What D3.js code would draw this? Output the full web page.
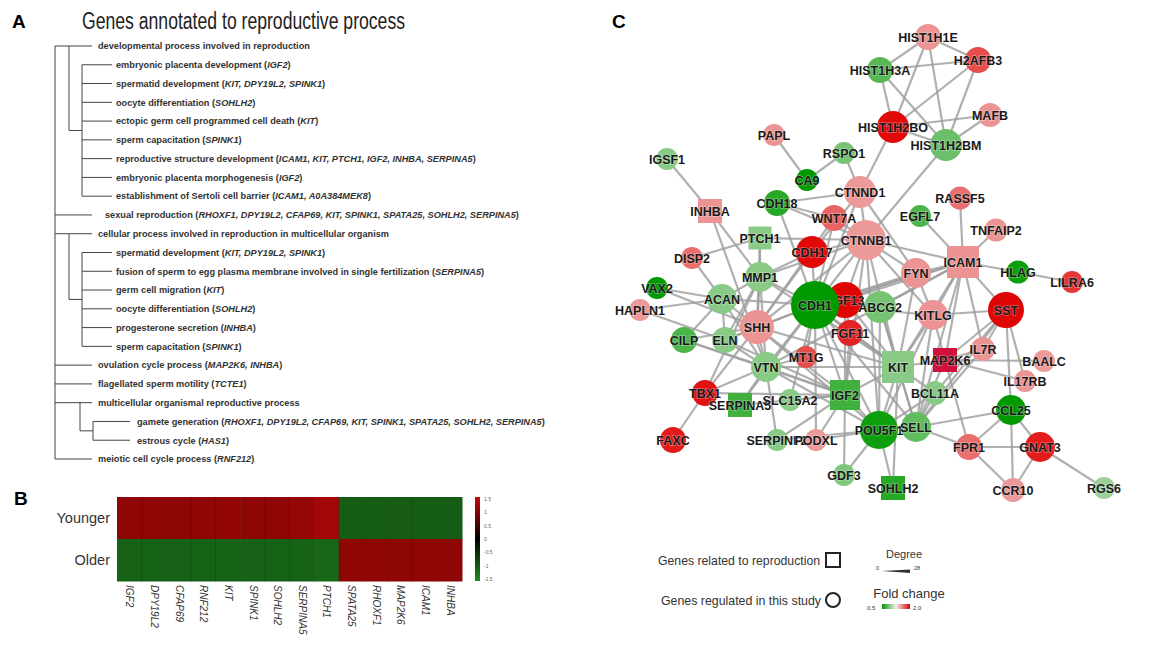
<!DOCTYPE html>
<html>
<head>
<meta charset="utf-8">
<script src="https://cdn.jsdelivr.net/npm/d3@7"></script>
<style>
  body { margin: 0; background: #fff; }
  svg { display: block; font-family: "Liberation Sans", Arial, sans-serif; }
</style>
</head>
<body>
<div id="fig"></div>
<script>
// ---------- panel A: GO terms ----------
const goTerms = [
  "developmental process involved in reproduction",
  "embryonic placenta development",
  "spermatid development",
  "oocyte differentiation",
  "ectopic germ cell programmed cell death",
  "sperm capacitation",
  "reproductive structure development",
  "embryonic placenta morphogenesis",
  "establishment of Sertoli cell barrier",
  "sexual reproduction",
  "cellular process involved in reproduction in multicellular organism",
  "spermatid development",
  "fusion of sperm to egg plasma membrane involved in single fertilization",
  "germ cell migration",
  "oocyte differentiation",
  "progesterone secretion",
  "sperm capacitation",
  "ovulation cycle process",
  "flagellated sperm motility",
  "multicellular organismal reproductive process",
  "gamete generation",
  "estrous cycle",
  "meiotic cell cycle process"
]
const goGenes = [
  "", "IGF2", "KIT, DPY19L2, SPINK1", "SOHLH2", "KIT", "SPINK1",
  "ICAM1, KIT, PTCH1, IGF2, INHBA, SERPINA5", "IGF2", "ICAM1, A0A384MEK8",
  "RHOXF1, DPY19L2, CFAP69, KIT, SPINK1, SPATA25, SOHLH2, SERPINA5",
  "", "KIT, DPY19L2, SPINK1", "SERPINA5", "KIT", "SOHLH2", "INHBA", "SPINK1",
  "MAP2K6, INHBA", "TCTE1", "",
  "RHOXF1, DPY19L2, CFAP69, KIT, SPINK1, SPATA25, SOHLH2, SERPINA5",
  "HAS1", "RNF212"
]
const goDepth = [1, 2, 2, 2, 2, 2, 2, 2, 2, 1, 1, 2, 2, 2, 2, 2, 2, 1, 1, 1, 3, 3, 1]

// ---------- panel B: heatmap ----------
const heatGenes = ["IGF2", "DPY19L2", "CFAP69", "RNF212", "KIT", "SPINK1", "SOHLH2",
  "SERPINA5", "PTCH1", "SPATA25", "RHOXF1", "MAP2K6", "ICAM1", "INHBA"]
const heatGroups = ["Younger", "Older"]
const youngerZ = [1.05, 1.05, 1.05, 1.05, 1.08, 1.05, 1.05, 1.1, 1.2, -1.0, -1.0, -1.0, -1.0, -1.0]
const olderZ = [-1.05, -1.05, -1.05, -1.05, -1.05, -1.05, -1.05, -1.05, -1.1, 1.05, 1.05, 1.05, 1.05, 1.05]
const zTicks = [1.5, 1, 0.5, 0, -0.5, -1, -1.5]

// ---------- panel C: network ----------
// [gene, layout x, layout y, fold change, degree, shape (c = regulated, s = reproduction)]
const netNodes = [
  ["HIST1H1E", 328, 37, 1.3, 6, "c"],
  ["H2AFB3", 378, 60, 1.6, 6, "c"],
  ["HIST1H3A", 280, 70, 0.64, 6, "c"],
  ["MAFB", 390, 115, 1.3, 4, "c"],
  ["HIST1H2BO", 293, 127, 1.95, 12, "c"],
  ["HIST1H2BM", 346, 145, 0.68, 12, "c"],
  ["PAPL", 174, 135, 1.3, 2, "c"],
  ["RSPO1", 244, 153, 0.7, 2, "c"],
  ["IGSF1", 67, 159, 0.74, 2, "c"],
  ["CA9", 207, 180, 0.5, 2, "c"],
  ["CTNND1", 260, 192, 1.28, 12, "c"],
  ["RASSF5", 360, 198, 1.45, 3, "c"],
  ["CDH18", 177, 203, 0.56, 6, "c"],
  ["INHBA", 110, 211, 1.3, 4, "s"],
  ["WNT7A", 234, 218, 1.5, 6, "c"],
  ["EGFL7", 320, 216, 0.62, 2, "c"],
  ["TNFAIP2", 396, 230, 1.3, 3, "c"],
  ["PTCH1", 160, 238, 0.74, 3, "s"],
  ["CTNNB1", 266, 240, 1.28, 20, "c"],
  ["CDH17", 212, 252, 1.95, 12, "c"],
  ["ICAM1", 363, 262, 1.3, 12, "s"],
  ["DISP2", 92, 258, 1.45, 2, "c"],
  ["FYN", 316, 273, 1.3, 10, "c"],
  ["HLAG", 418, 272, 0.52, 3, "c"],
  ["LILRA6", 472, 282, 1.7, 2, "c"],
  ["MMP1", 160, 277, 0.74, 10, "c"],
  ["VAX2", 57, 288, 0.5, 2, "c"],
  ["FGF13", 245, 300, 1.97, 16, "c"],
  ["ABCG2", 280, 307, 0.7, 12, "c"],
  ["CDH1", 215, 305, 0.5, 28, "c"],
  ["SST", 406, 310, 1.97, 16, "c"],
  ["ACAN", 122, 299, 0.74, 10, "c"],
  ["HAPLN1", 40, 310, 1.28, 2, "c"],
  ["KITLG", 333, 315, 1.3, 10, "c"],
  ["SHH", 157, 327, 1.3, 14, "c"],
  ["FGF11", 250, 333, 1.8, 6, "c"],
  ["MT1G", 206, 357, 1.6, 2, "c"],
  ["MAP2K6", 345, 360, 2.0, 4, "s"],
  ["IL7R", 383, 349, 1.3, 4, "c"],
  ["BAALC", 444, 361, 1.28, 2, "c"],
  ["IL17RB", 425, 381, 1.3, 2, "c"],
  ["CILP", 84, 340, 0.62, 6, "c"],
  ["ELN", 125, 340, 0.74, 6, "c"],
  ["KIT", 298, 367, 0.74, 12, "s"],
  ["VTN", 166, 367, 0.74, 10, "c"],
  ["IGF2", 245, 395, 0.6, 10, "s"],
  ["TBX1", 105, 393, 1.9, 6, "c"],
  ["SERPINA5", 140, 405, 0.6, 4, "s"],
  ["SLC15A2", 190, 400, 0.74, 2, "c"],
  ["BCL11A", 335, 393, 0.74, 4, "c"],
  ["CCL25", 411, 410, 0.5, 10, "c"],
  ["POU5F1", 279, 430, 0.52, 18, "c"],
  ["SELL", 316, 427, 0.66, 10, "c"],
  ["SERPINF2", 177, 440, 0.74, 2, "c"],
  ["PODXL", 216, 440, 1.28, 2, "c"],
  ["FAXC", 73, 440, 1.85, 6, "c"],
  ["FPR1", 369, 447, 1.45, 6, "c"],
  ["GNAT3", 440, 447, 1.85, 10, "c"],
  ["GDF3", 244, 475, 0.72, 2, "c"],
  ["SOHLH2", 293, 488, 0.56, 4, "s"],
  ["CCR10", 413, 490, 1.28, 4, "c"],
  ["RGS6", 504, 488, 0.78, 2, "c"]
]
const netEdges = [
  ["HIST1H1E", "HIST1H3A"], ["HIST1H1E", "H2AFB3"], ["HIST1H1E", "HIST1H2BO"], ["HIST1H1E", "HIST1H2BM"],
  ["HIST1H3A", "H2AFB3"], ["HIST1H3A", "HIST1H2BO"], ["HIST1H3A", "HIST1H2BM"], ["H2AFB3", "HIST1H2BO"],
  ["H2AFB3", "HIST1H2BM"], ["MAFB", "HIST1H2BO"], ["MAFB", "HIST1H2BM"], ["HIST1H2BO", "HIST1H2BM"],
  ["HIST1H2BO", "CTNND1"], ["HIST1H2BM", "CTNNB1"], ["PAPL", "CA9"], ["RSPO1", "CA9"], ["RSPO1", "CTNND1"],
  ["IGSF1", "INHBA"], ["CDH18", "CTNND1"], ["CTNND1", "CTNNB1"], ["CTNND1", "CDH1"], ["CTNND1", "CDH17"],
  ["CTNND1", "FYN"], ["CDH18", "CDH1"], ["CDH18", "CTNNB1"], ["CDH18", "WNT7A"], ["INHBA", "MMP1"],
  ["INHBA", "VTN"], ["WNT7A", "CTNNB1"], ["WNT7A", "CDH1"], ["WNT7A", "SHH"], ["EGFL7", "ICAM1"],
  ["RASSF5", "ICAM1"], ["TNFAIP2", "ICAM1"], ["PTCH1", "SHH"], ["PTCH1", "DISP2"], ["PTCH1", "CTNNB1"],
  ["PTCH1", "MMP1"], ["CTNNB1", "CDH1"], ["CTNNB1", "CDH17"], ["CTNNB1", "FYN"], ["CTNNB1", "FGF13"],
  ["CTNNB1", "KIT"], ["CTNNB1", "SHH"], ["CTNNB1", "POU5F1"], ["CTNNB1", "IGF2"], ["CTNNB1", "MMP1"],
  ["CTNNB1", "ICAM1"], ["CTNNB1", "KITLG"], ["CDH17", "CDH1"], ["CDH17", "MMP1"], ["CDH17", "SHH"],
  ["ICAM1", "FYN"], ["ICAM1", "HLAG"], ["ICAM1", "SST"], ["ICAM1", "KITLG"], ["ICAM1", "KIT"],
  ["ICAM1", "MAP2K6"], ["ICAM1", "IL7R"], ["ICAM1", "ABCG2"], ["ICAM1", "SELL"], ["ICAM1", "CDH1"],
  ["ICAM1", "FGF13"], ["ICAM1", "VTN"], ["HLAG", "LILRA6"], ["DISP2", "ACAN"], ["FYN", "KIT"],
  ["FYN", "CDH1"], ["FYN", "KITLG"], ["FYN", "FGF13"], ["MMP1", "ACAN"], ["MMP1", "CDH1"], ["MMP1", "VTN"],
  ["MMP1", "ELN"], ["MMP1", "SHH"], ["MMP1", "KIT"], ["MMP1", "TBX1"], ["VAX2", "ACAN"], ["VAX2", "SHH"],
  ["FGF13", "CDH1"], ["FGF13", "KIT"], ["FGF13", "FGF11"], ["FGF13", "IGF2"], ["ABCG2", "KIT"],
  ["ABCG2", "CDH1"], ["ABCG2", "POU5F1"], ["ABCG2", "SELL"], ["CDH1", "SHH"], ["CDH1", "KIT"],
  ["CDH1", "IGF2"], ["CDH1", "POU5F1"], ["CDH1", "VTN"], ["CDH1", "MT1G"], ["CDH1", "FGF11"],
  ["CDH1", "ACAN"], ["CDH1", "ELN"], ["CDH1", "SLC15A2"], ["CDH1", "SERPINA5"], ["CDH1", "PODXL"],
  ["CDH1", "KITLG"], ["CDH1", "SELL"], ["SST", "KITLG"], ["SST", "IL7R"], ["SST", "MAP2K6"],
  ["SST", "IL17RB"], ["SST", "CCL25"], ["SST", "SELL"], ["SST", "BCL11A"], ["ACAN", "HAPLN1"],
  ["ACAN", "CILP"], ["ACAN", "ELN"], ["ACAN", "SHH"], ["ACAN", "VTN"], ["HAPLN1", "ELN"],
  ["KITLG", "KIT"], ["KITLG", "MAP2K6"], ["KITLG", "POU5F1"], ["KITLG", "SELL"], ["SHH", "VTN"],
  ["SHH", "IGF2"], ["SHH", "POU5F1"], ["SHH", "TBX1"], ["SHH", "KIT"], ["SHH", "ELN"], ["SHH", "CILP"],
  ["FGF11", "KIT"], ["FGF11", "IGF2"], ["MT1G", "VTN"], ["MAP2K6", "KIT"], ["MAP2K6", "IL7R"],
  ["MAP2K6", "FPR1"], ["MAP2K6", "SELL"], ["MAP2K6", "BAALC"], ["MAP2K6", "IL17RB"], ["IL7R", "SELL"],
  ["CILP", "VTN"], ["CILP", "IGF2"], ["ELN", "VTN"], ["ELN", "IGF2"], ["KIT", "IGF2"], ["KIT", "POU5F1"],
  ["KIT", "SELL"], ["KIT", "BCL11A"], ["KIT", "SOHLH2"], ["KIT", "VTN"], ["VTN", "IGF2"],
  ["VTN", "SERPINA5"], ["VTN", "SERPINF2"], ["VTN", "TBX1"], ["VTN", "POU5F1"], ["IGF2", "POU5F1"],
  ["IGF2", "SLC15A2"], ["IGF2", "PODXL"], ["IGF2", "SERPINF2"], ["IGF2", "SERPINA5"], ["IGF2", "TBX1"],
  ["TBX1", "FAXC"], ["BCL11A", "POU5F1"], ["BCL11A", "SELL"], ["CCL25", "SELL"], ["CCL25", "FPR1"],
  ["CCL25", "GNAT3"], ["CCL25", "CCR10"], ["POU5F1", "SELL"], ["POU5F1", "GDF3"], ["POU5F1", "SOHLH2"],
  ["POU5F1", "PODXL"], ["POU5F1", "SERPINF2"], ["SELL", "FPR1"], ["FPR1", "GNAT3"], ["FPR1", "CCR10"],
  ["GNAT3", "CCR10"], ["GNAT3", "RGS6"], ["GDF3", "IGF2"]
]

const W = 1149, H = 648
const svg = d3.select("#fig").append("svg").attr("width", W).attr("height", H)

// panel letters
svg.selectAll("text.panel")
  .data([["A", 12, 28], ["B", 14, 505], ["C", 612, 28]])
  .enter().append("text")
  .attr("x", d => d[1]).attr("y", d => d[2])
  .attr("font-size", 19).attr("font-weight", "bold")
  .text(d => d[0])

// ================= A =================
const gA = svg.append("g")
gA.append("text")
  .attr("x", 82).attr("y", 29)
  .attr("font-size", 23)
  .attr("font-family", "'Liberation Sans Narrow', 'Liberation Sans', Arial, sans-serif")
  .attr("textLength", 323).attr("lengthAdjust", "spacingAndGlyphs")
  .attr("fill", "#222")
  .text("Genes annotated to reproductive process")

const rowY = d3.scaleLinear().domain([0, goTerms.length - 1]).range([46, 459])
const rootX = 55
const lvl = {
  1: { x0: rootX, x1: 92, tx: 98 },
  2: { x0: 82, x1: 112, tx: 116, elbow: 69 },
  3: { x0: 93, x1: 130, tx: 137, elbow: 80 }
}
const lineColor = "#444"

gA.append("line")
  .attr("x1", rootX).attr("x2", rootX)
  .attr("y1", rowY(0)).attr("y2", rowY(goTerms.length - 1))
  .attr("stroke", lineColor).attr("stroke-width", 1)

// find child groups
const groups = []
goDepth.forEach((d, i) => {
  if (d > 1 && (i === 0 || goDepth[i - 1] !== d)) {
    let p = i - 1
    while (p >= 0 && goDepth[p] >= d) p--
    let j = i
    while (j + 1 < goDepth.length && goDepth[j + 1] === d) j++
    groups.push({ parent: p, first: i, last: j, depth: d })
  }
})
groups.forEach(g => {
  const L = lvl[g.depth]
  const mid = (rowY(g.first) + rowY(g.last)) / 2
  gA.append("path")
    .attr("d", `M${L.elbow},${rowY(g.parent)}V${mid}H${L.x0}`)
    .attr("fill", "none").attr("stroke", lineColor).attr("stroke-width", 1)
  gA.append("line")
    .attr("x1", L.x0).attr("x2", L.x0)
    .attr("y1", rowY(g.first)).attr("y2", rowY(g.last))
    .attr("stroke", lineColor).attr("stroke-width", 1)
})

goTerms.forEach((t, i) => {
  const L = lvl[goDepth[i]]
  gA.append("line")
    .attr("x1", L.x0).attr("x2", L.x1)
    .attr("y1", rowY(i)).attr("y2", rowY(i))
    .attr("stroke", lineColor).attr("stroke-width", 1)
  const tx = gA.append("text")
    .attr("x", t === "sexual reproduction" ? L.tx + 7 : L.tx)
    .attr("y", rowY(i) + 3.3)
    .attr("font-size", 9.2).attr("font-weight", "bold")
    .attr("fill", "#333")
  tx.append("tspan").text(t + (goGenes[i] ? " (" : ""))
  if (goGenes[i]) {
    tx.append("tspan").attr("font-style", "italic").text(goGenes[i])
    tx.append("tspan").text(")")
  }
})

// ================= B =================
const gB = svg.append("g")
const hx = d3.scaleBand().domain(heatGenes).range([117, 462])
const hy = d3.scaleBand().domain(heatGroups).range([497, 581])
const zColor = d3.scaleLinear().domain([-1.5, 0, 1.5]).range(["#1f8c1f", "#000000", "#cc0808"])
const heatRows = [youngerZ, olderZ]

heatRows.forEach((vals, r) => {
  gB.selectAll(null).data(vals).enter().append("rect")
    .attr("x", (d, i) => hx(heatGenes[i]))
    .attr("y", hy(heatGroups[r]))
    .attr("width", hx.bandwidth() + 0.5)
    .attr("height", hy.bandwidth() + 0.5)
    .attr("fill", d => zColor(d))
})
// faint column separators
gB.selectAll("line.sep").data(heatGenes.slice(1)).enter().append("line")
  .attr("x1", d => hx(d)).attr("x2", d => hx(d))
  .attr("y1", 497).attr("y2", 581)
  .attr("stroke", "#000").attr("stroke-opacity", 0.12)

gB.selectAll("text.row").data(heatGroups).enter().append("text")
  .attr("x", 110).attr("y", d => hy(d) + hy.bandwidth() / 2 + 5)
  .attr("text-anchor", "end").attr("font-size", 14.5)
  .attr("fill", "#333")
  .attr("font-family", "'Liberation Sans Narrow', 'Liberation Sans', Arial, sans-serif")
  .text(d => d)

gB.selectAll("text.col").data(heatGenes).enter().append("text")
  .attr("transform", d => `translate(${hx(d) + hx.bandwidth() / 2 - 3},585) rotate(90)`)
  .attr("font-size", 10).attr("font-style", "italic")
  .attr("fill", "#333")
  .text(d => d)

// colour key
const defs = svg.append("defs")
const zg = defs.append("linearGradient").attr("id", "zgrad")
  .attr("x1", 0).attr("x2", 0).attr("y1", 0).attr("y2", 1)
zg.selectAll("stop").data([1.5, 0, -1.5]).enter().append("stop")
  .attr("offset", (d, i) => i / 2).attr("stop-color", d => zColor(d))
gB.append("rect").attr("x", 475).attr("y", 497).attr("width", 5).attr("height", 84)
  .attr("fill", "url(#zgrad)")
const zy = d3.scaleLinear().domain([1.5, -1.5]).range([499, 579])
gB.selectAll("text.zt").data(zTicks).enter().append("text")
  .attr("x", 484).attr("y", d => zy(d) + 2)
  .attr("font-size", 5).attr("fill", "#666")
  .text(d => d)

// ================= C =================
const gC = svg.append("g")
const nx = d3.scaleLinear().domain([0, 549]).range([600, 1149])
const ny = d3.scaleLinear().domain([0, 648]).range([0, 648])
const rScale = d3.scaleLinear().domain([0, 28]).range([10, 24])
const fcColor = d3.scaleLinear().domain([-1, 0, 1])
  .range(["#009a00", "#f3eeee", "#e00000"]).clamp(true)
const nodeById = new Map(netNodes.map(n => [n[0], n]))

gC.append("g").selectAll("line").data(netEdges).enter().append("line")
  .attr("x1", d => nx(nodeById.get(d[0])[1]))
  .attr("y1", d => ny(nodeById.get(d[0])[2]))
  .attr("x2", d => nx(nodeById.get(d[1])[1]))
  .attr("y2", d => ny(nodeById.get(d[1])[2]))
  .attr("stroke", "#9c9c9c").attr("stroke-opacity", 0.8)
  .attr("stroke-width", 2.2)

const nodeG = gC.append("g").selectAll("g").data(netNodes).enter().append("g")
  .attr("transform", d => `translate(${nx(d[1])},${ny(d[2])})`)

nodeG.filter(d => d[5] === "c").append("circle")
  .attr("r", d => rScale(d[4]))
  .attr("fill", d => fcColor(Math.log2(d[3])))
nodeG.filter(d => d[5] === "s").append("rect")
  .attr("x", d => -rScale(d[4])).attr("y", d => -rScale(d[4]))
  .attr("width", d => 2 * rScale(d[4])).attr("height", d => 2 * rScale(d[4]))
  .attr("fill", d => d[0] === "MAP2K6" ? "#d0103a" : fcColor(Math.log2(d[3])))

nodeG.append("text")
  .attr("text-anchor", "middle").attr("dy", "0.36em")
  .attr("font-size", 12.5).attr("font-weight", "bold")
  .attr("fill", "#1a1a1a")
  .attr("stroke", "#fff").attr("stroke-width", 1.5).attr("stroke-opacity", 0.35)
  .attr("paint-order", "stroke")
  .text(d => d[0])

// legend
const lg = svg.append("g").attr("fill", "#333")
  .attr("font-family", "'Liberation Sans Narrow', 'Liberation Sans', Arial, sans-serif")
lg.append("text").attr("x", 820).attr("y", 565).attr("text-anchor", "end")
  .attr("font-size", 13).attr("textLength", 162).attr("lengthAdjust", "spacingAndGlyphs")
  .text("Genes related to reproduction")
lg.append("rect").attr("x", 826).attr("y", 553).attr("width", 14).attr("height", 14)
  .attr("fill", "none").attr("stroke", "#222").attr("stroke-width", 2)
lg.append("text").attr("x", 821).attr("y", 605).attr("text-anchor", "end")
  .attr("font-size", 13).attr("textLength", 160).attr("lengthAdjust", "spacingAndGlyphs")
  .text("Genes regulated in this study")
lg.append("circle").attr("cx", 833).attr("cy", 600).attr("r", 7)
  .attr("fill", "none").attr("stroke", "#222").attr("stroke-width", 2)

lg.append("text").attr("x", 904).attr("y", 558).attr("text-anchor", "middle")
  .attr("font-size", 11).text("Degree")
lg.append("path").attr("d", "M882,571L910,569.5L910,573Z").attr("fill", "#333")
lg.append("text").attr("x", 876).attr("y", 570).attr("font-size", 5.5).text("0")
lg.append("text").attr("x", 914).attr("y", 570).attr("font-size", 5.5).text("28")

lg.append("text").attr("x", 909).attr("y", 598).attr("text-anchor", "middle")
  .attr("font-size", 13).text("Fold change")
const fg = defs.append("linearGradient").attr("id", "fcgrad")
fg.selectAll("stop").data([Math.log2(0.5), 0, Math.log2(2)]).enter().append("stop")
  .attr("offset", (d, i) => i / 2).attr("stop-color", d => fcColor(d))
lg.append("rect").attr("x", 882).attr("y", 604).attr("width", 28).attr("height", 5)
  .attr("fill", "url(#fcgrad)")
lg.append("text").attr("x", 867).attr("y", 610).attr("font-size", 6).text("0.5")
lg.append("text").attr("x", 913).attr("y", 610).attr("font-size", 6).text("2.0")
</script>
</body>
</html>
